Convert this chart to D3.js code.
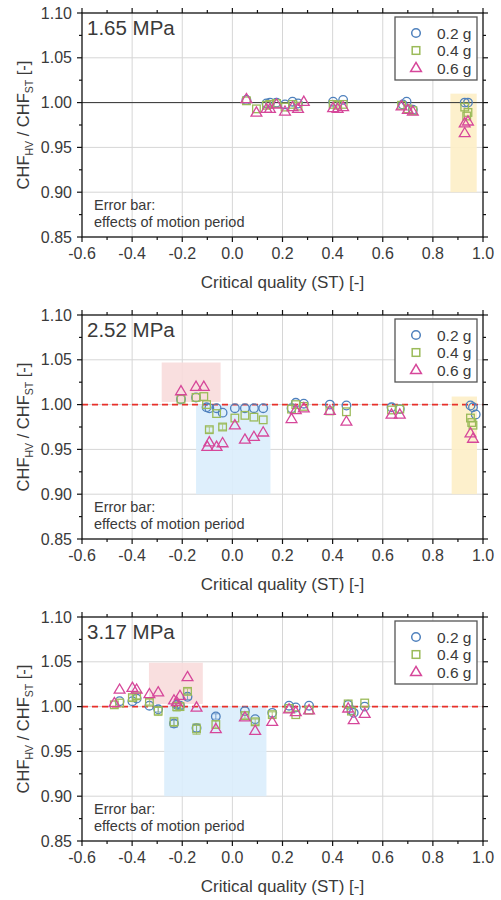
<!DOCTYPE html>
<html>
<head>
<meta charset="utf-8">
<script src="https://cdn.jsdelivr.net/npm/d3@7"></script>
<style>
  body { margin: 0; background: #fff; }
  text { font-family: "Liberation Sans", Arial, sans-serif; font-weight: normal; }
</style>
</head>
<body>
<svg id="chart"></svg>
<script>
// tick values
const xTicks = [-0.6, -0.4, -0.2, 0.0, 0.2, 0.4, 0.6, 0.8, 1.0];
const yTicks = [0.85, 0.90, 0.95, 1.00, 1.05, 1.10];
const seriesNames = ['0.2 g', '0.4 g', '0.6 g'];
const pressures = ['1.65 MPa', '2.52 MPa', '3.17 MPa'];

// [critical quality, CHF ratio, error half-width]
const p165_02 = [[0.056,1.003,0.001],[0.136,0.999,0.001],[0.150,1.000,0.001],[0.176,1.000,0.001],[0.210,0.998,0.001],[0.240,1.001,0.001],[0.262,0.999,0.001],[0.402,1.001,0.001],[0.442,1.003,0.001],[0.680,0.998,0.001],[0.695,1.001,0.001],[0.720,0.992,0.001],[0.927,1.000,0.002],[0.940,1.000,0.002]];
const p165_04 = [[0.056,1.002,0.001],[0.096,0.993,0.001],[0.136,0.997,0.001],[0.150,0.998,0.001],[0.176,0.999,0.001],[0.210,0.995,0.001],[0.240,0.998,0.001],[0.262,0.996,0.001],[0.402,0.998,0.001],[0.420,0.997,0.001],[0.442,0.998,0.001],[0.675,0.997,0.001],[0.700,0.993,0.001],[0.720,0.991,0.001],[0.927,0.995,0.002],[0.935,0.985,0.002],[0.940,0.989,0.002]];
const p165_06 = [[0.056,1.004,0.001],[0.096,0.989,0.001],[0.136,0.993,0.001],[0.150,0.993,0.001],[0.176,0.998,0.001],[0.210,0.990,0.001],[0.240,0.995,0.001],[0.262,0.993,0.001],[0.285,1.001,0.001],[0.402,0.994,0.001],[0.420,0.993,0.001],[0.442,0.995,0.001],[0.675,0.996,0.001],[0.700,0.992,0.001],[0.720,0.990,0.001],[0.927,0.977,0.002],[0.927,0.966,0.002],[0.940,0.979,0.002]];

const p252_02 = [[-0.205,1.006,0.002],[-0.145,1.008,0.002],[-0.103,0.997,0.002],[-0.092,0.996,0.002],[-0.063,0.996,0.002],[-0.039,0.991,0.002],[0.010,0.996,0.001],[0.050,0.996,0.001],[0.086,0.996,0.001],[0.123,0.996,0.001],[0.236,0.996,0.001],[0.253,1.002,0.001],[0.285,1.001,0.001],[0.389,1.000,0.001],[0.455,0.999,0.001],[0.635,0.997,0.001],[0.668,0.995,0.001],[0.950,0.999,0.002],[0.960,0.997,0.002],[0.971,0.989,0.002]];
const p252_04 = [[-0.205,1.006,0.002],[-0.145,1.008,0.002],[-0.114,1.009,0.002],[-0.103,1.000,0.002],[-0.092,0.972,0.003],[-0.063,0.990,0.002],[-0.039,0.975,0.003],[0.010,0.985,0.002],[0.050,0.988,0.002],[0.086,0.986,0.002],[0.123,0.983,0.002],[0.236,0.995,0.001],[0.253,1.000,0.001],[0.285,0.998,0.001],[0.389,0.993,0.001],[0.455,0.992,0.001],[0.635,0.994,0.001],[0.668,0.995,0.001],[0.950,0.985,0.002],[0.955,0.980,0.002],[0.960,0.977,0.002]];
const p252_06 = [[-0.205,1.015,0.002],[-0.145,1.020,0.002],[-0.114,1.020,0.002],[-0.100,0.953,0.002],[-0.092,0.958,0.002],[-0.063,0.953,0.002],[-0.039,0.957,0.002],[0.010,0.977,0.002],[0.050,0.961,0.002],[0.086,0.964,0.002],[0.123,0.969,0.002],[0.236,0.984,0.002],[0.253,0.994,0.001],[0.285,0.996,0.001],[0.389,0.993,0.001],[0.455,0.981,0.001],[0.635,0.989,0.001],[0.668,0.989,0.001],[0.950,0.968,0.002],[0.960,0.962,0.002]];

const p317_02 = [[-0.450,1.006,0.002],[-0.399,1.006,0.002],[-0.382,1.009,0.002],[-0.331,1.001,0.002],[-0.296,0.997,0.003],[-0.233,0.981,0.004],[-0.222,1.002,0.003],[-0.209,1.001,0.003],[-0.179,1.011,0.003],[-0.143,0.976,0.004],[-0.066,0.989,0.003],[0.050,0.995,0.002],[0.091,0.986,0.002],[0.159,0.993,0.002],[0.226,1.001,0.001],[0.253,0.999,0.001],[0.306,1.001,0.001],[0.462,1.002,0.002],[0.475,0.996,0.002],[0.484,0.993,0.002],[0.528,1.000,0.002]];
const p317_04 = [[-0.471,1.002,0.002],[-0.450,1.004,0.002],[-0.399,1.010,0.003],[-0.382,1.012,0.003],[-0.331,1.005,0.003],[-0.296,0.995,0.005],[-0.233,0.983,0.005],[-0.222,1.000,0.005],[-0.209,1.000,0.004],[-0.179,1.017,0.003],[-0.143,0.975,0.006],[-0.066,0.980,0.004],[0.050,0.990,0.003],[0.091,0.983,0.003],[0.159,0.991,0.003],[0.226,0.998,0.002],[0.253,0.991,0.002],[0.306,0.996,0.002],[0.462,1.003,0.002],[0.475,0.995,0.002],[0.528,1.004,0.002]];
const p317_06 = [[-0.471,1.004,0.002],[-0.450,1.019,0.002],[-0.399,1.021,0.002],[-0.382,1.019,0.002],[-0.331,1.014,0.002],[-0.296,1.016,0.002],[-0.233,1.007,0.002],[-0.222,1.005,0.002],[-0.209,1.012,0.002],[-0.179,1.033,0.002],[-0.143,0.999,0.002],[-0.066,0.975,0.002],[0.050,0.988,0.002],[0.091,0.973,0.002],[0.159,0.983,0.002],[0.226,0.997,0.002],[0.253,0.994,0.002],[0.306,0.996,0.002],[0.462,0.998,0.002],[0.484,0.985,0.002],[0.528,0.992,0.002]];

// shaded regions [x0, x1, y0, y1, kind]
const box165 = [[0.870, 0.975, 0.900, 1.010, 'orange']];
const box252 = [[-0.282, -0.047, 1.003, 1.047, 'pink'], [-0.145, 0.152, 0.900, 1.000, 'blue'], [0.875, 0.976, 0.900, 1.009, 'orange']];
const box317 = [[-0.333, -0.118, 1.003, 1.049, 'pink'], [-0.272, 0.136, 0.900, 1.000, 'blue']];

const panels = [
  { title: pressures[0], series: [p165_02, p165_04, p165_06], boxes: box165, dashed: false },
  { title: pressures[1], series: [p252_02, p252_04, p252_06], boxes: box252, dashed: true },
  { title: pressures[2], series: [p317_02, p317_04, p317_06], boxes: box317, dashed: true }
];

const colors = ['#4f81bd', '#9bbb59', '#d6479a'];
const boxFill = { orange: '#fdeec6', pink: '#f8dcdc', blue: '#daedfc' };
const textColor = '#3a3a3a';

const W = 501, H = 900;
const left = 82, right = 483, plotH = 224, panelStep = 302, firstTop = 13;

const svg = d3.select('#chart')
  .attr('width', W)
  .attr('height', H);

const x = d3.scaleLinear().domain([-0.6, 1.0]).range([left, right]);
const y = d3.scaleLinear().domain([0.85, 1.10]).range([plotH, 0]);

const xMinor = d3.range(-6, 11, 1).map(d => d / 10);
const yMinor = d3.range(34, 45, 1).map(d => d * 0.025);

function marker(sel, i) {
  if (i === 0) {
    sel.append('circle').attr('r', 4.3);
  } else if (i === 1) {
    sel.append('rect').attr('x', -3.8).attr('y', -3.8).attr('width', 7.6).attr('height', 7.6);
  } else {
    sel.append('path').attr('d', 'M0,-5.6L5.4,3.6L-5.4,3.6Z');
  }
}

panels.forEach((p, pi) => {
  const g = svg.append('g').attr('transform', `translate(0,${firstTop + pi * panelStep})`);

  // grid
  g.append('g').selectAll('line').data(xTicks.slice(1, -1)).enter().append('line')
    .attr('x1', d => x(d)).attr('x2', d => x(d)).attr('y1', 0).attr('y2', plotH)
    .attr('stroke', '#d6d6d6').attr('stroke-width', 1);
  g.append('g').selectAll('line').data(yTicks.slice(1, -1)).enter().append('line')
    .attr('x1', left).attr('x2', right).attr('y1', d => y(d)).attr('y2', d => y(d))
    .attr('stroke', '#d6d6d6').attr('stroke-width', 1);

  // shaded boxes
  g.append('g').selectAll('rect').data(p.boxes).enter().append('rect')
    .attr('x', d => x(d[0])).attr('width', d => x(d[1]) - x(d[0]))
    .attr('y', d => y(d[3])).attr('height', d => y(d[2]) - y(d[3]))
    .attr('fill', d => boxFill[d[4]]).attr('opacity', 0.9);

  // reference line at 1.0
  g.append('line')
    .attr('x1', left).attr('x2', right).attr('y1', y(1)).attr('y2', y(1))
    .attr('stroke', p.dashed ? '#e8302a' : '#333')
    .attr('stroke-width', p.dashed ? 1.6 : 1)
    .attr('stroke-dasharray', p.dashed ? '6,4' : null);

  // series
  p.series.forEach((data, si) => {
    const sg = g.append('g').attr('stroke', colors[si]).attr('fill', 'none');
    sg.selectAll('.eb').data(data.filter(d => d[2] >= 0.003)).enter().append('path')
      .attr('class', 'eb')
      .attr('stroke-width', 1)
      .attr('opacity', 0.7)
      .attr('d', d => `M${x(d[0])},${y(d[1] - d[2])}V${y(d[1] + d[2])}` +
        `M${x(d[0]) - 4},${y(d[1] - d[2])}h8M${x(d[0]) - 4},${y(d[1] + d[2])}h8`);
    sg.selectAll('.pt').data(data).enter().append('g')
      .attr('class', 'pt')
      .attr('transform', d => `translate(${x(d[0])},${y(d[1])})`)
      .attr('stroke-width', 1.3)
      .each(function () { marker(d3.select(this), si); });
  });

  // frame and ticks
  g.append('rect')
    .attr('x', left).attr('y', 0).attr('width', right - left).attr('height', plotH)
    .attr('fill', 'none').attr('stroke', '#111').attr('stroke-width', 1.3);

  const ticks = g.append('g').attr('stroke', '#111').attr('stroke-width', 1.2);
  xMinor.forEach((v, i) => {
    const len = i % 2 === 0 ? 5 : 3;
    ticks.append('line').attr('x1', x(v)).attr('x2', x(v)).attr('y1', plotH).attr('y2', plotH + len);
    ticks.append('line').attr('x1', x(v)).attr('x2', x(v)).attr('y1', 0).attr('y2', -len);
  });
  yMinor.forEach((v, i) => {
    const len = i % 2 === 0 ? 5 : 3;
    ticks.append('line').attr('x1', left).attr('x2', left - len).attr('y1', y(v)).attr('y2', y(v));
    ticks.append('line').attr('x1', right).attr('x2', right + len).attr('y1', y(v)).attr('y2', y(v));
  });

  // tick labels
  g.append('g').selectAll('text').data(xTicks).enter().append('text')
    .attr('x', d => x(d)).attr('y', plotH + 22)
    .attr('text-anchor', 'middle').attr('font-size', 16).attr('fill', textColor)
    .text(d => d3.format('.1f')(d).replace('−', '-'));
  g.append('g').selectAll('text').data(yTicks).enter().append('text')
    .attr('x', left - 10).attr('y', d => y(d) + 5.5)
    .attr('text-anchor', 'end').attr('font-size', 16).attr('fill', textColor)
    .text(d => d3.format('.2f')(d));

  // axis titles
  g.append('text')
    .attr('x', (left + right) / 2).attr('y', plotH + 51)
    .attr('text-anchor', 'middle').attr('font-size', 17).attr('fill', textColor)
    .text('Critical quality (ST) [-]');

  const yl = g.append('text')
    .attr('transform', `translate(29,${plotH / 2}) rotate(-90)`)
    .attr('text-anchor', 'middle').attr('font-size', 16.5).attr('fill', textColor);
  yl.append('tspan').text('CHF');
  yl.append('tspan').attr('font-size', 10.5).attr('dy', 4).text('HV');
  yl.append('tspan').attr('dy', -4).text(' / CHF');
  yl.append('tspan').attr('font-size', 10.5).attr('dy', 4).text('ST');
  yl.append('tspan').attr('dy', -4).text(' [-]');

  // panel label and note
  g.append('text')
    .attr('x', 87).attr('y', 22)
    .attr('font-size', 20.5).attr('fill', textColor)
    .text(p.title);
  g.append('text')
    .attr('x', 94).attr('y', 197)
    .attr('font-size', 14.5).attr('fill', textColor)
    .text('Error bar:');
  g.append('text')
    .attr('x', 94).attr('y', 214)
    .attr('font-size', 14.5).attr('fill', textColor)
    .text('effects of motion period');

  // legend
  const lg = g.append('g');
  lg.append('rect')
    .attr('x', 395).attr('y', 4).attr('width', 82).attr('height', 63)
    .attr('fill', '#fff').attr('stroke', '#555').attr('stroke-width', 1.3);
  seriesNames.forEach((name, si) => {
    const row = lg.append('g').attr('transform', `translate(0,${20 + si * 17.5})`);
    const m = row.append('g').attr('transform', 'translate(416,0)')
      .attr('stroke', colors[si]).attr('fill', 'none').attr('stroke-width', 1.5);
    marker(m, si);
    row.append('text')
      .attr('x', 437).attr('y', 5.5)
      .attr('font-size', 15.5).attr('fill', textColor)
      .text(name);
  });
});
</script>
</body>
</html>
